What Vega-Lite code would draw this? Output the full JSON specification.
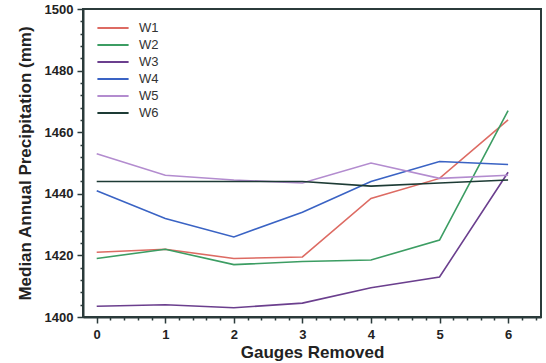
{
  "$schema": "https://vega.github.io/schema/vega-lite/v6.json",
  "width": 458,
  "height": 308,
  "autosize": {"type": "none"},
  "padding": {"left": 83, "top": 9, "right": 5, "bottom": 46},
  "background": "white",
  "config": {
    "view": {"stroke": "#2b3b3b", "strokeWidth": 2},
    "font": "Liberation Sans"
  },
  "data": {"values": [
    {"g":0,"s":"W1","v":1421},{"g":1,"s":"W1","v":1422},{"g":2,"s":"W1","v":1419},{"g":3,"s":"W1","v":1419.5},{"g":4,"s":"W1","v":1438.5},{"g":5,"s":"W1","v":1445},{"g":6,"s":"W1","v":1464},
    {"g":0,"s":"W2","v":1419},{"g":1,"s":"W2","v":1422},{"g":2,"s":"W2","v":1417},{"g":3,"s":"W2","v":1418},{"g":4,"s":"W2","v":1418.5},{"g":5,"s":"W2","v":1425},{"g":6,"s":"W2","v":1467},
    {"g":0,"s":"W3","v":1403.5},{"g":1,"s":"W3","v":1404},{"g":2,"s":"W3","v":1403},{"g":3,"s":"W3","v":1404.5},{"g":4,"s":"W3","v":1409.5},{"g":5,"s":"W3","v":1413},{"g":6,"s":"W3","v":1447},
    {"g":0,"s":"W4","v":1441},{"g":1,"s":"W4","v":1432},{"g":2,"s":"W4","v":1426},{"g":3,"s":"W4","v":1434},{"g":4,"s":"W4","v":1444},{"g":5,"s":"W4","v":1450.5},{"g":6,"s":"W4","v":1449.5},
    {"g":0,"s":"W5","v":1453},{"g":1,"s":"W5","v":1446},{"g":2,"s":"W5","v":1444.5},{"g":3,"s":"W5","v":1443.5},{"g":4,"s":"W5","v":1450},{"g":5,"s":"W5","v":1445},{"g":6,"s":"W5","v":1446},
    {"g":0,"s":"W6","v":1444},{"g":1,"s":"W6","v":1444},{"g":2,"s":"W6","v":1444},{"g":3,"s":"W6","v":1444},{"g":4,"s":"W6","v":1442.5},{"g":5,"s":"W6","v":1443.5},{"g":6,"s":"W6","v":1444.5}
  ]},
  "mark": {"type": "line", "strokeWidth": 1.6},
  "encoding": {
    "x": {
      "field": "g", "type": "quantitative",
      "scale": {"domain": [-0.2, 6.48], "nice": false, "zero": false},
      "axis": {
        "title": "Gauges Removed",
        "values": [0,0.2,0.4,0.6,0.8,1,1.2,1.4,1.6,1.8,2,2.2,2.4,2.6,2.8,3,3.2,3.4,3.6,3.8,4,4.2,4.4,4.6,4.8,5,5.2,5.4,5.6,5.8,6,6.2,6.4],
        "labelExpr": "abs(datum.value - round(datum.value)) < 0.01 ? format(datum.value, 'd') : ''",
        "tickSize": 6,
        "tickDash": {"condition": {"test": "abs(datum.value - round(datum.value)) < 0.01", "value": []}, "value": [3, 4]},
        "tickColor": "#2b3b3b", "tickWidth": 1.5,
        "domainColor": "#2b3b3b", "domainWidth": 2,
        "grid": false,
        "labelFont": "Liberation Sans", "labelFontWeight": "bold", "labelFontSize": 13, "labelColor": "#222",
        "labelPadding": 5, "labelFlush": false, "labelOverlap": false,
        "titleFont": "Liberation Sans", "titleFontWeight": "bold", "titleFontSize": 17, "titleColor": "#222",
        "titlePadding": 3
      }
    },
    "y": {
      "field": "v", "type": "quantitative",
      "scale": {"domain": [1400, 1500], "nice": false, "zero": false},
      "axis": {
        "title": "Median Annual Precipitation (mm)",
        "values": [1400,1404,1408,1412,1416,1420,1424,1428,1432,1436,1440,1444,1448,1452,1456,1460,1464,1468,1472,1476,1480,1484,1488,1492,1496,1500],
        "labelExpr": "datum.value % 20 === 0 ? format(datum.value, 'd') : ''",
        "tickSize": 6,
        "tickDash": {"condition": {"test": "datum.value % 20 === 0", "value": []}, "value": [3, 4]},
        "tickColor": "#2b3b3b", "tickWidth": 1.5,
        "domainColor": "#2b3b3b", "domainWidth": 2,
        "grid": false,
        "labelFont": "Liberation Sans", "labelFontWeight": "bold", "labelFontSize": 13, "labelColor": "#222",
        "labelPadding": 4, "labelOverlap": false, "labelFlush": false,
        "titleFont": "Liberation Sans", "titleFontWeight": "bold", "titleFontSize": 17, "titleColor": "#222",
        "titlePadding": 10
      }
    },
    "color": {
      "field": "s", "type": "nominal",
      "scale": {"domain": ["W1","W2","W3","W4","W5","W6"], "range": ["#dd6b63","#3c9d63","#6b3f8e","#3a63c4","#b38ccf","#1d3b35"]},
      "legend": {
        "title": null, "orient": "none", "legendX": 23, "legendY": 12,
        "symbolType": "M-2.6,0H2.6", "symbolSize": 144, "symbolStrokeWidth": 2,
        "labelFont": "Liberation Sans", "labelFontSize": 13, "labelFontWeight": 500, "labelColor": "#333",
        "rowPadding": 3, "labelOffset": 19
      }
    }
  }
}
